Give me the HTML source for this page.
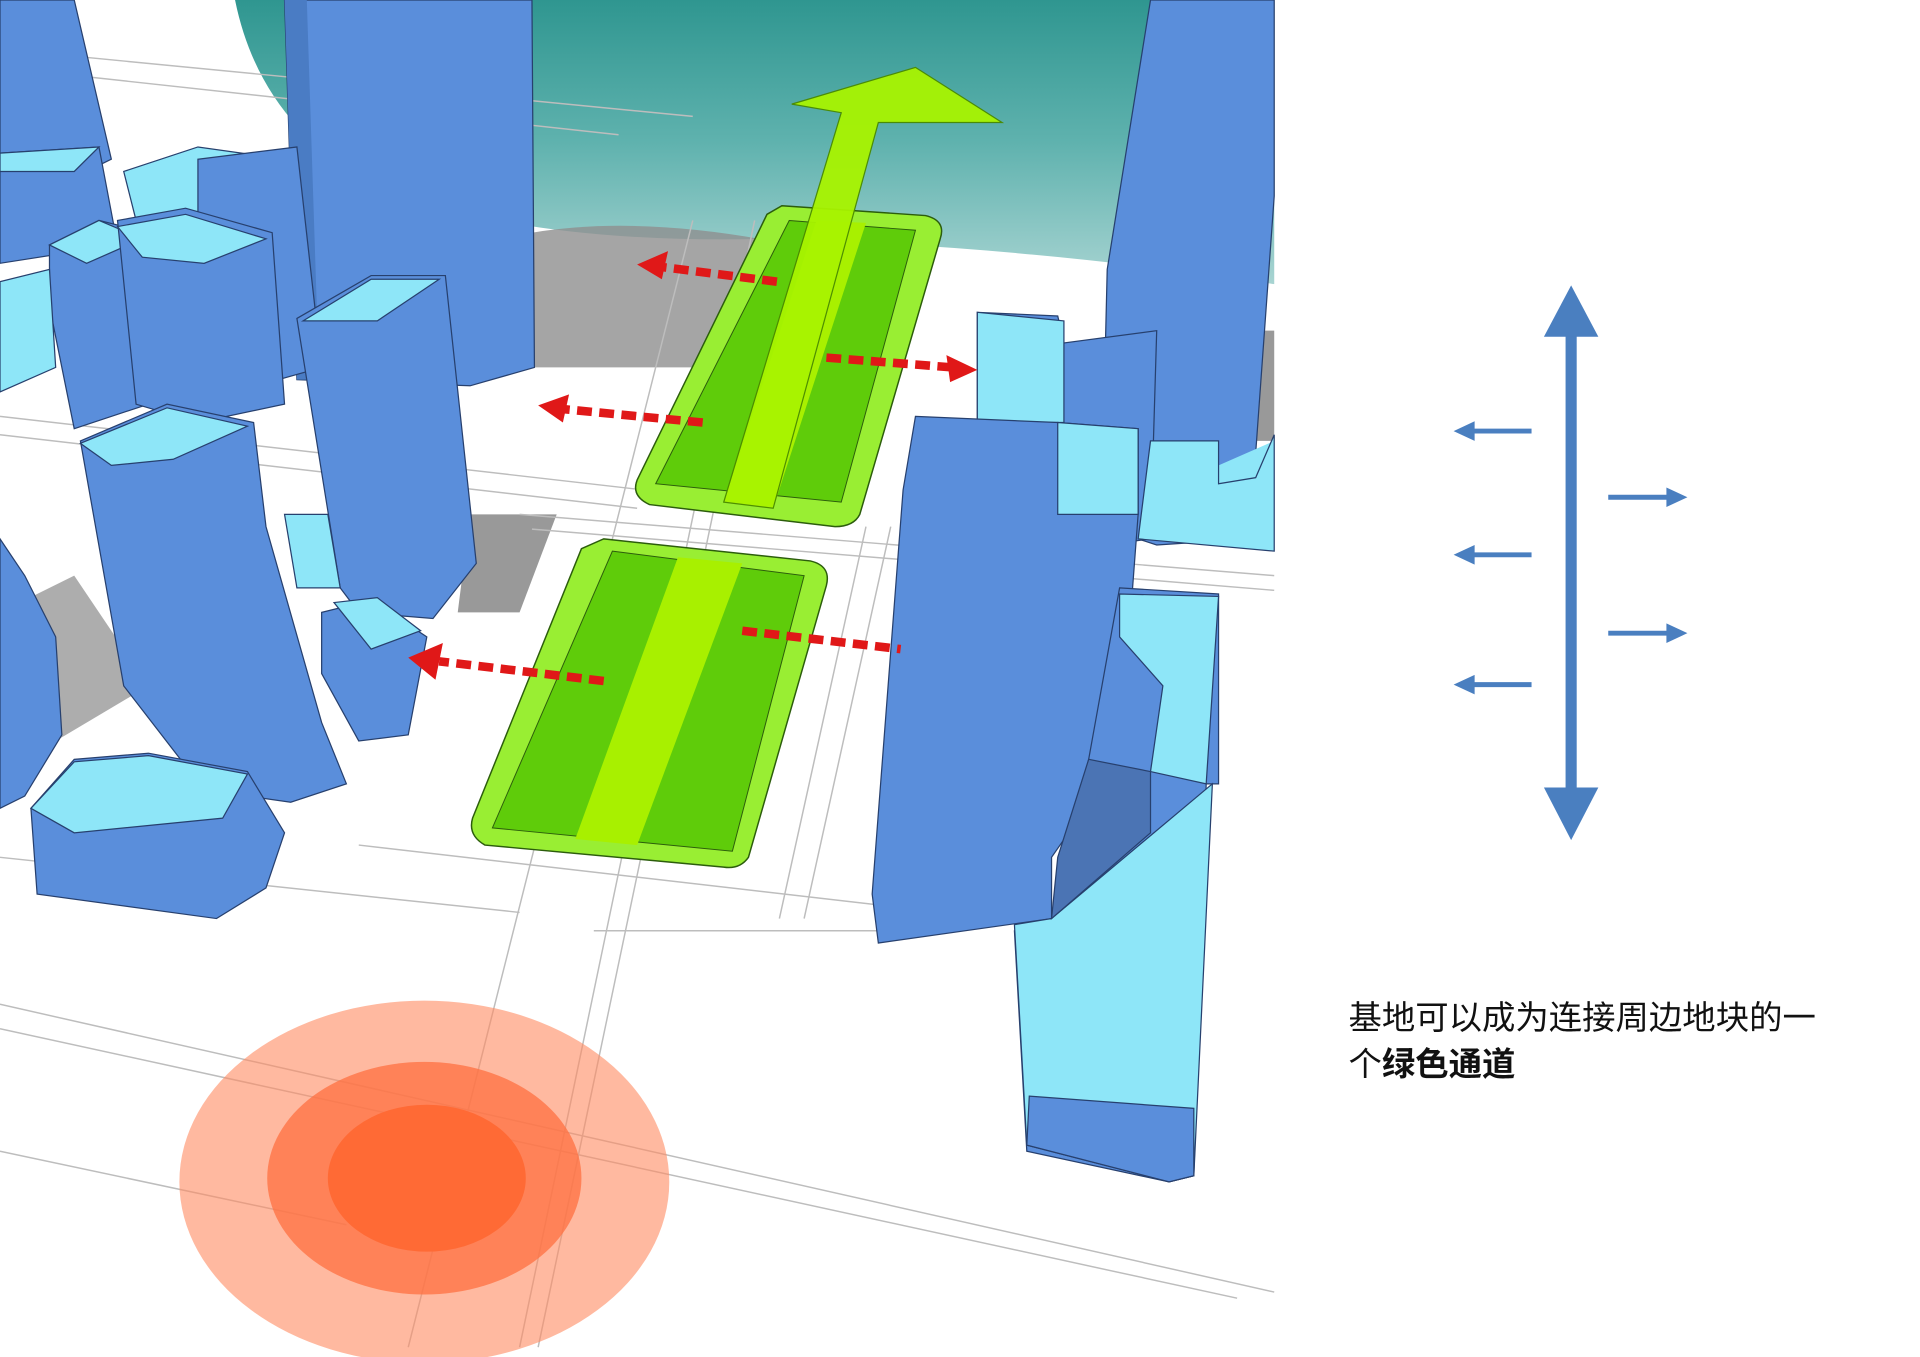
<!DOCTYPE html>
<html><head><meta charset="utf-8"><style>
html,body{margin:0;padding:0;background:#fff;width:1920px;height:1357px;overflow:hidden}
svg{display:block}
</style></head><body>
<svg width="1920" height="1357" viewBox="0 0 1552 1108" preserveAspectRatio="none" xmlns="http://www.w3.org/2000/svg">
<defs>
<linearGradient id="tg" x1="0" y1="0" x2="0" y2="1"><stop offset="0" stop-color="#2f9690"/><stop offset="0.5" stop-color="#5fb2ae"/><stop offset="1" stop-color="#a8d4d2"/></linearGradient>
</defs>
<rect width="1552" height="1108" fill="#fff"/>
<!-- teal -->
<path d="M190 0 H1030 V232 Q820 200 620 195 Q420 200 300 150 Q210 100 190 0Z" fill="url(#tg)"/>
<!-- ground shadows -->
<path d="M430 190 Q520 175 640 200 L560 300 L430 300Z" fill="#8f8f8f" opacity="0.8"/>
<path d="M0 500 L60 470 L120 560 L20 620 L0 620Z" fill="#999" opacity="0.8"/>
<path d="M380 420 L450 420 L420 500 L370 500Z" fill="#999"/>
<path d="M985 270 L1030 270 L1030 360 L990 360Z" fill="#999"/>
<!-- roads -->
<g fill="none" stroke="#bdbdbd" stroke-width="1.2">
<path d="M0 340 L520 400 M0 355 L515 415 M420 420 L1030 470 M430 432 L1030 482"/>
<path d="M0 820 L1030 1055 M0 840 L1000 1060 M0 940 L280 1000"/>
<path d="M610 180 L420 1100 M625 185 L435 1100 M560 180 L330 1100 M700 430 L630 750 M720 430 L650 750"/>
<path d="M290 690 L720 740 M0 700 L420 745 M480 760 L720 760"/>
<path d="M0 40 L560 95 M0 55 L500 110"/>
</g>
<!-- top center tower -->
<polygon points="230,0 430,0 432,300 380,315 240,310" fill="#5a8edb" stroke="#27406e" stroke-width="1"/>
<polygon points="230,0 248,0 258,310 240,310" fill="#4a7cc4"/>
<!-- right tall tower -->
<polygon points="930,0 1030,0 1030,160 1010,440 935,445 890,430 895,220" fill="#5a8edb" stroke="#27406e"/>
<polygon points="985,380 1030,360 1030,450 985,440" fill="#8ee6f8"/>
<!-- left cluster -->
<g stroke="#27406e" stroke-width="1">
<polygon points="0,0 60,0 90,130 30,160 0,150" fill="#5a8edb"/>
<polygon points="0,125 80,120 95,200 0,215" fill="#5a8edb"/>
<polygon points="0,125 80,120 60,140 0,140" fill="#8ee6f8"/>
<polygon points="100,140 160,120 230,130 230,180 110,180" fill="#8ee6f8"/>
<polygon points="160,130 240,120 260,300 190,320 160,210" fill="#5a8edb"/>
<polygon points="40,200 80,180 120,190 120,330 60,350 40,250" fill="#5a8edb"/>
<polygon points="40,200 80,180 115,195 70,215" fill="#8ee6f8"/>
<polygon points="95,180 150,170 220,190 230,330 160,345 110,330" fill="#5a8edb"/>
<polygon points="95,185 150,175 215,195 165,215 115,210" fill="#8ee6f8"/>
<polygon points="0,230 40,220 45,300 0,320" fill="#8ee6f8"/>
<polygon points="240,260 300,225 360,225 385,460 350,505 290,500 275,480" fill="#5a8edb"/>
<polygon points="245,262 300,228 355,228 305,262" fill="#8ee6f8"/>
<polygon points="65,360 135,330 205,345 215,430 260,590 280,640 235,655 165,645 100,560" fill="#5a8edb"/>
<polygon points="65,362 135,333 200,348 140,375 90,380" fill="#8ee6f8"/>
<polygon points="230,420 265,420 275,480 240,480" fill="#8ee6f8"/>
<polygon points="260,500 300,490 345,520 330,600 290,605 260,550" fill="#5a8edb"/>
<polygon points="270,492 305,488 340,515 300,530" fill="#8ee6f8"/>
<polygon points="0,440 20,470 45,520 50,600 20,650 0,660" fill="#5a8edb"/>
<polygon points="25,660 60,620 120,615 200,630 230,680 215,725 175,750 30,730" fill="#5a8edb"/>
<polygon points="25,660 60,622 120,617 200,632 180,668 60,680" fill="#8ee6f8"/>
<!-- right buildings -->
<polygon points="790,255 855,258 860,280 935,270 930,440 855,450 790,345" fill="#5a8edb"/>
<polygon points="790,255 860,262 860,345 790,345" fill="#8ee6f8"/>
<polygon points="740,340 855,345 920,350 920,420 905,620 850,700 850,750 710,770 705,730 730,400" fill="#5a8edb"/>
<polygon points="855,345 920,350 920,420 855,420" fill="#8ee6f8"/>
<polygon points="905,480 985,485 985,640 975,640 965,960 945,965 830,940 820,760 850,750 880,620" fill="#5a8edb"/>
<polygon points="905,485 985,487 975,640 930,630 940,560 905,520" fill="#8ee6f8"/>
<polygon points="850,750 980,640 965,960 945,965 830,935 820,755" fill="#8ee6f8"/>
<polygon points="850,750 930,680 930,630 880,620 855,700" fill="#4b74b4"/>
<polygon points="832,895 965,905 965,960 945,965 830,935" fill="#5a8edb"/>
<polygon points="930,360 985,360 985,395 1015,390 1030,355 1030,450 920,440" fill="#8ee6f8"/>
</g>
<!-- green parks -->
<path d="M632 168 L748 176 Q765 180 760 195 L695 420 Q690 430 675 430 L525 412 Q510 405 515 392 L620 175Z" fill="#99ee33" stroke="#2c5d0c" stroke-width="1.2"/>
<path d="M638 180 L740 188 L680 410 L530 395Z" fill="#5fcc0a" stroke="#2c5d0c" stroke-width="0.8"/>
<polygon points="660,180 700,182 625,415 585,410" fill="#a8f000"/>
<path d="M488 440 L655 458 Q672 462 668 478 L605 700 Q598 710 585 708 L392 690 Q378 682 382 668 L470 448Z" fill="#99ee33" stroke="#2c5d0c" stroke-width="1.2"/>
<path d="M495 450 L650 470 L592 695 L398 676Z" fill="#5fcc0a" stroke="#2c5d0c" stroke-width="0.8"/>
<polygon points="548,455 600,460 515,690 465,685" fill="#a8f000"/>
<!-- big green arrow -->
<polygon points="585,410 625,415 710,100 810,100 740,55 640,85 680,92" fill="#a8f400" stroke="#4a8a00" stroke-width="1" opacity="0.95"/>
<!-- red dashed arrows -->
<g stroke="#e01818" stroke-width="7" stroke-dasharray="12,6" fill="none">
<line x1="628" y1="230" x2="535" y2="218"/>
<line x1="568" y1="345" x2="455" y2="334"/>
<line x1="668" y1="292" x2="770" y2="300"/>
<line x1="488" y1="556" x2="355" y2="540"/>
<line x1="600" y1="515" x2="728" y2="530"/>
</g>
<g fill="#e01818">
<polygon points="515,216 540,205 535,228"/>
<polygon points="435,331 460,322 455,345"/>
<polygon points="790,302 765,290 768,312"/>
<polygon points="330,537 358,525 352,555"/>
</g>
<!-- orange circles -->
<ellipse cx="343" cy="965" rx="198" ry="148" fill="#ff8a60" opacity="0.6"/>
<ellipse cx="343" cy="962" rx="127" ry="95" fill="#ff7040" opacity="0.75"/>
<ellipse cx="345" cy="962" rx="80" ry="60" fill="#ff6a35"/>
<!-- right diagram -->
<g fill="#4a7fc0" stroke="#4a7fc0">
<line x1="1270" y1="265" x2="1270" y2="650" stroke-width="9"/>
<polygon points="1270,233 1292,275 1248,275" stroke="none"/>
<polygon points="1270,686 1292,643 1248,643" stroke="none"/>
<g stroke-width="4">
<line x1="1188" y1="352" x2="1238" y2="352"/><line x1="1188" y1="453" x2="1238" y2="453"/><line x1="1188" y1="559" x2="1238" y2="559"/>
<line x1="1300" y1="406" x2="1350" y2="406"/><line x1="1300" y1="517" x2="1350" y2="517"/>
</g>
<g stroke="none">
<polygon points="1175,352 1192,344 1192,360"/><polygon points="1175,453 1192,445 1192,461"/><polygon points="1175,559 1192,551 1192,567"/>
<polygon points="1364,406 1347,398 1347,414"/><polygon points="1364,517 1347,509 1347,525"/>
</g>
</g>
<text x="1090" y="840" font-family="'Liberation Sans','Noto Sans CJK SC',sans-serif" font-size="27" fill="#111">基地可以成为连接周边地块的一</text>
<text x="1090" y="878" font-family="'Liberation Sans','Noto Sans CJK SC',sans-serif" font-size="27" fill="#111">个<tspan font-weight="bold">绿色通道</tspan></text>
</svg>
</body></html>
